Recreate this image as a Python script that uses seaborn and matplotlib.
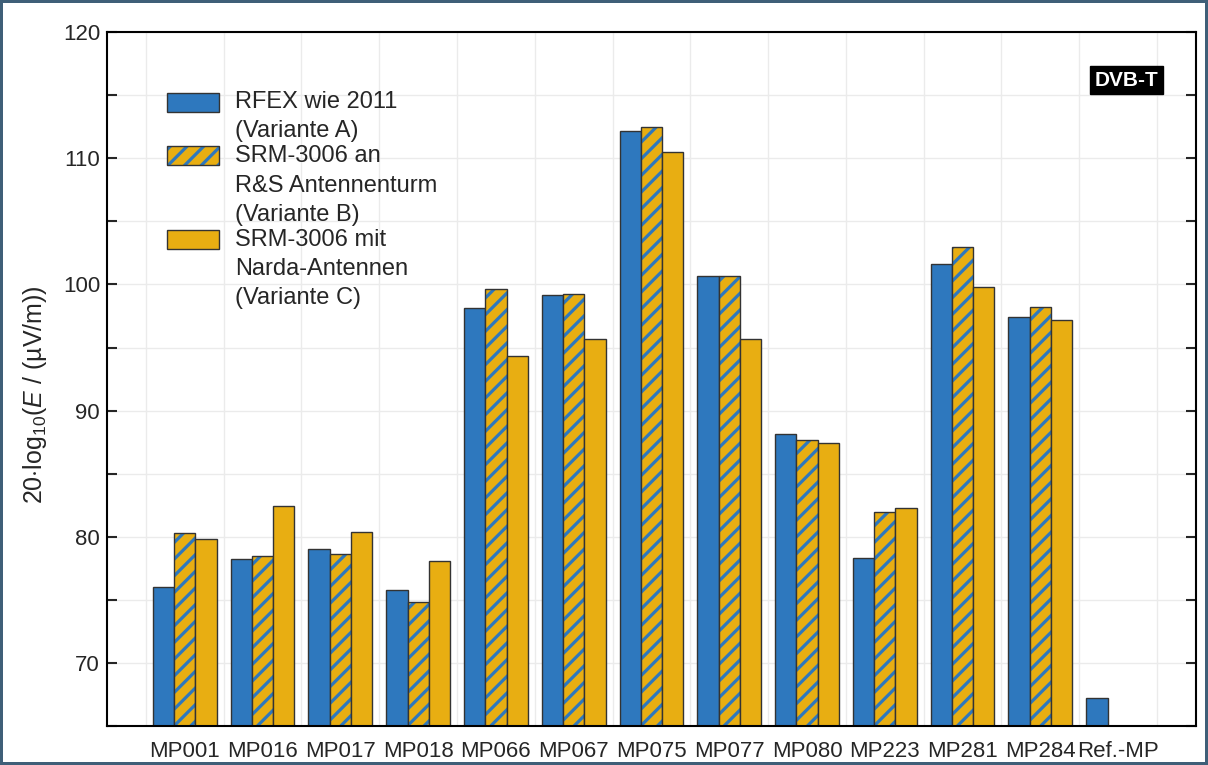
import matplotlib
matplotlib.use("Agg")
import matplotlib.pyplot as plt
from matplotlib.patches import Patch, Rectangle
from matplotlib.legend_handler import HandlerPatch
from matplotlib.ticker import MultipleLocator, FixedLocator
import numpy as np
import pandas as pd
import seaborn as sns

# ---------------------------------------------------------------------------
# Data
# ---------------------------------------------------------------------------
sites = ["MP001", "MP016", "MP017", "MP018", "MP066", "MP067", "MP075",
         "MP077", "MP080", "MP223", "MP281", "MP284", "Ref.-MP"]
variant_a = [76.0, 78.2, 79.0, 75.8, 98.1, 99.2, 112.15, 100.7, 88.15, 78.3, 101.65, 97.4, 67.2]
variant_b = [80.3, 78.5, 78.6, 74.8, 99.65, 99.25, 112.5, 100.7, 87.65, 82.0, 102.95, 98.2, np.nan]
variant_c = [79.8, 82.4, 80.35, 78.05, 94.35, 95.7, 110.5, 95.7, 87.45, 82.3, 99.8, 97.2, np.nan]
variants = ["RFEX wie 2011\n(Variante A)",
            "SRM-3006 an\nR&S Antennenturm\n(Variante B)",
            "SRM-3006 mit\nNarda-Antennen\n(Variante C)"]

BLUE = "#2e78be"
GOLD = "#e8ae12"
EDGE = "#333333"
HATCH = "//"
LEG_FS = 17
LINESPACING = 1.43

df = pd.DataFrame({
    "site": sites * 3,
    "value": variant_a + variant_b + variant_c,
    "variant": [variants[0]] * len(sites) + [variants[1]] * len(sites) + [variants[2]] * len(sites),
})


def set_hatch_colour(patch, colour):
    if hasattr(patch, "set_hatchcolor"):
        patch.set_hatchcolor(colour)
    else:
        patch._hatch_color = matplotlib.colors.to_rgba(colour)


class TopAlignedPatch(HandlerPatch):
    """Legend box that sits on the first line of a multi-line label."""

    def __init__(self, nlines, pitch, **kw):
        super().__init__(**kw)
        self.nlines = nlines
        self.pitch = pitch

    def create_artists(self, legend, orig_handle, xdescent, ydescent,
                       width, height, fontsize, trans):
        shift = (self.nlines - 1) / 2 * self.pitch * fontsize
        p = Rectangle((-xdescent, -ydescent + shift), width, height)
        p.update_from(orig_handle)
        p.set_edgecolor(EDGE)
        if orig_handle.get_hatch():
            set_hatch_colour(p, BLUE)
        p.set_transform(trans)
        return [p]


# ---------------------------------------------------------------------------
# Plot
# ---------------------------------------------------------------------------
sns.set_style("white")
plt.rcParams["font.family"] = ["Liberation Sans", "DejaVu Sans"]
plt.rcParams["mathtext.fontset"] = "custom"
plt.rcParams["mathtext.rm"] = "Liberation Sans"
plt.rcParams["mathtext.it"] = "Liberation Sans:italic"
plt.rcParams["hatch.linewidth"] = 2.3

fig = plt.figure(figsize=(12.08, 7.65), dpi=100, linewidth=3, edgecolor="#3f5f78")
ax = fig.add_axes([0.0886, 0.051, 0.9014, 0.907])

sns.barplot(data=df, x="site", y="value", hue="variant", order=sites,
            hue_order=variants, palette=[BLUE, GOLD, GOLD], saturation=1,
            width=0.82, errorbar=None, edgecolor=EDGE, linewidth=1.0,
            legend=False, ax=ax)

# hatched middle series: gold bars with blue stripes, dark outline
for p in ax.containers[1]:
    p.set_hatch(HATCH)
    set_hatch_colour(p, BLUE)

ax.set_xlim(-1, 13)
ax.set_ylim(65, 120)
ax.set_xlabel("")
ax.set_ylabel(r"20$\cdot$log$_{10}$($\mathit{E}$ / (µV/m))", fontsize=18)
ax.yaxis.set_label_coords(-0.053, 0.478)

ax.yaxis.set_major_locator(MultipleLocator(10))
ax.yaxis.set_minor_locator(MultipleLocator(5))
ax.xaxis.set_minor_locator(FixedLocator(np.arange(-0.5, 13, 1.0)))
ax.tick_params(axis="x", which="major", length=0, labelsize=16, pad=11)
ax.tick_params(axis="x", which="minor", direction="in", length=7, width=1.5, top=False)
ax.tick_params(axis="y", which="both", direction="in", length=7, width=1.5,
               left=True, right=True, labelsize=16, pad=5)
ax.grid(True, which="both", color="#ebebeb", linewidth=1.0)
ax.grid(False, axis="x", which="major")
ax.set_axisbelow(True)
for s in ax.spines.values():
    s.set_color("black")
    s.set_linewidth(1.5)

handles = [Patch(facecolor=BLUE, edgecolor=EDGE, linewidth=1.0),
           Patch(facecolor=GOLD, edgecolor=BLUE, hatch=HATCH, linewidth=1.0),
           Patch(facecolor=GOLD, edgecolor=EDGE, linewidth=1.0)]
pitch = 1.27
handler_map = {h: TopAlignedPatch(lab.count("\n") + 1, pitch) for h, lab in zip(handles, variants)}
leg = ax.legend(handles, variants, loc="upper left", bbox_to_anchor=(0.055, 0.915),
                frameon=False, fontsize=LEG_FS, handlelength=2.2, handleheight=0.85,
                handletextpad=0.68, labelspacing=0.12, borderaxespad=0, borderpad=0,
                handler_map=handler_map)
for t in leg.get_texts():
    t.set_linespacing(LINESPACING)

ax.text(0.936, 0.931, "DVB-T", transform=ax.transAxes, ha="center", va="center",
        color="white", fontsize=15, fontweight="bold",
        bbox=dict(boxstyle="square,pad=0.22", facecolor="black", edgecolor="black"))

fig.savefig("out.png", dpi=100)
